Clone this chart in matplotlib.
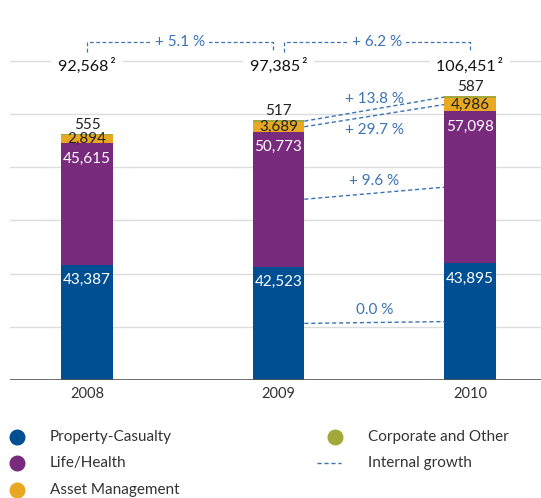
import matplotlib
matplotlib.use("Agg")
import matplotlib.pyplot as plt
from matplotlib.lines import Line2D

plt.rcParams['font.family'] = ['Lato', 'DejaVu Sans']

years = ["2008", "2009", "2010"]
property_casualty = [43387, 42523, 43895]
life_health = [45615, 50773, 57098]
asset_management = [2894, 3689, 4986]
corporate_other = [555, 517, 587]
totals = ["92,568", "97,385", "106,451"]
total_growth = ["+ 5.1 %", "+ 6.2 %"]
segment_growth = ["0.0 %", "+ 9.6 %", "+ 29.7 %", "+ 13.8 %"]
legend_labels = ["Property-Casualty", "Life/Health", "Asset Management",
                 "Corporate and Other", "Internal growth"]

C_PC = "#004f93"
C_LH = "#782a7c"
C_AM = "#e9a822"
C_CO = "#a3a83a"
C_DASH = "#3b73b3"
C_TXT = "#222222"

fig = plt.figure(figsize=(5.41, 4.98), dpi=100)
H = 498
ax = fig.add_axes([10/541, (H-380)/H, 531/541, 362/H])
W = 0.27
x = list(range(len(years)))

ax.set_xlim(-0.402, 2.371)
ax.set_ylim(0, 136000)
for g in range(20000, 120001, 20000):
    ax.axhline(g, color="#dcdcdc", lw=1.0, zorder=0)
ax.axhline(0, color="#555555", lw=1.2, zorder=3)
for s in ax.spines.values():
    s.set_visible(False)
ax.set_xticks([]); ax.set_yticks([])

segments = [property_casualty, life_health, asset_management, corporate_other]
colors = [C_PC, C_LH, C_AM, C_CO]
bottoms = [0, 0, 0]
mids = []
for seg, col in zip(segments, colors):
    ax.bar(x, seg, W, bottom=bottoms, color=col, zorder=2, linewidth=0)
    mids.append([b + v/2 for b, v in zip(bottoms, seg)])
    bottoms = [b + v for b, v in zip(bottoms, seg)]

fs = 11
for i in x:
    ax.annotate(f"{property_casualty[i]:,}", (i, property_casualty[i]), xytext=(0, -6),
                textcoords="offset points", ha="center", va="top", color="white", fontsize=fs, zorder=4)
    b1 = property_casualty[i] + life_health[i]
    ax.annotate(f"{life_health[i]:,}", (i, b1), xytext=(0, -6),
                textcoords="offset points", ha="center", va="top", color="white", fontsize=fs, zorder=4)
    ax.text(i, mids[2][i], f"{asset_management[i]:,}", ha="center", va="center",
            color=C_TXT, fontsize=fs, zorder=4)
    ax.annotate(f"{corporate_other[i]:,}", (i, bottoms[i]), xytext=(0, 1.5),
                textcoords="offset points", ha="center", va="bottom", color=C_TXT, fontsize=fs, zorder=4)
    ax.text(i, 118200, totals[i] + "\u2009²", ha="center", va="center", color="#111111",
            fontsize=11.5, zorder=4, bbox=dict(facecolor="white", edgecolor="none", pad=5))
    ax.annotate(years[i], (i, 0), xytext=(0, -5), textcoords="offset points",
                ha="center", va="top", color="#333333", fontsize=10.5)

# total growth brackets
yb, yt = 127000, 123300
for (a, b), lab in zip([(0, 0.97), (1.03, 2)], total_growth):
    ax.plot([a, a, b, b], [yt, yb, yb, yt], ls=(0, (3, 2)), color=C_DASH, lw=0.9, zorder=5)
    ax.text((a+b)/2, yb, lab, ha="center", va="center", color=C_DASH, fontsize=11,
            bbox=dict(facecolor="white", edgecolor="none", pad=3), zorder=6)

# segment growth lines
x0, x1 = 1 + W/2, 2 - W/2
offsets = [(4, "bottom"), (4, "bottom"), (-5, "top"), (2, "bottom")]
for k in range(4):
    y0, y1 = mids[k][1], mids[k][2]
    ax.plot([x0, x1], [y0, y1], ls=(0, (3, 2)), color=C_DASH, lw=1.0, zorder=3)
    xm = (x0 + x1)/2
    ym = (y0 + y1)/2
    ax.annotate(segment_growth[k], (xm, ym), xytext=(0, offsets[k][0]), textcoords="offset points",
                ha="center", va=offsets[k][1], color=C_DASH, fontsize=11, zorder=4)

# legend
def fy(py):
    return 1 - py/H
items = [(17, 437, C_PC, legend_labels[0]), (17, 463, C_LH, legend_labels[1]),
         (17, 490, C_AM, legend_labels[2]), (335, 437, C_CO, legend_labels[3])]
for px, py, col, lab in items:
    fig.add_artist(Line2D([px/541], [fy(py)], marker="o", markersize=10.5, color=col, ls="none"))
    fig.text((px+33)/541, fy(py), lab, va="center", ha="left", color="#333333", fontsize=11)
fig.add_artist(Line2D([317/541, 341/541], [fy(463), fy(463)], ls=(0, (3, 2)), color=C_DASH, lw=1.0))
fig.text(368/541, fy(463), legend_labels[4], va="center", ha="left", color="#333333", fontsize=11)

fig.savefig("out.png", dpi=100)
